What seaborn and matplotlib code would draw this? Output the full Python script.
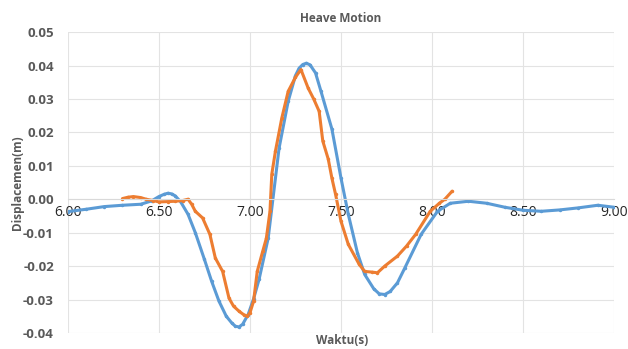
import matplotlib
matplotlib.use("Agg")
import matplotlib.pyplot as plt
import seaborn as sns

# blue series (smooth model curve)
t_blue = [6.00, 6.10, 6.20, 6.30, 6.40, 6.46, 6.50, 6.53, 6.55, 6.57, 6.59, 6.62, 6.66,
          6.70, 6.75, 6.79, 6.83, 6.87, 6.90, 6.92, 6.94, 6.96, 6.99, 7.02, 7.05, 7.10,
          7.16, 7.21, 7.25, 7.27, 7.29, 7.31, 7.33, 7.36, 7.39, 7.45, 7.50, 7.54, 7.59,
          7.63, 7.68, 7.71, 7.74, 7.77, 7.81, 7.85, 7.94, 8.03, 8.10, 8.20, 8.30, 8.40,
          8.50, 8.60, 8.70, 8.80, 8.91, 9.00]
d_blue = [-0.0037, -0.0030, -0.0022, -0.0018, -0.0015, -0.0005, 0.0008, 0.0015, 0.0018,
          0.0016, 0.0010, -0.0008, -0.0045, -0.0100, -0.0180, -0.0246, -0.0305, -0.0350,
          -0.0370, -0.0380, -0.0382, -0.0374, -0.0345, -0.0298, -0.0240, -0.0117, 0.0153,
          0.0293, 0.0370, 0.0392, 0.0403, 0.0407, 0.0402, 0.0378, 0.0323, 0.0210, 0.0063,
          -0.0045, -0.0160, -0.0225, -0.0268, -0.0283, -0.0285, -0.0276, -0.0250, -0.0206,
          -0.0105, -0.0036, -0.0012, -0.0006, -0.0012, -0.0024, -0.0033, -0.0036, -0.0032,
          -0.0026, -0.0018, -0.0024]

# orange series (measured)
t_orange = [6.30, 6.33, 6.36, 6.40, 6.43, 6.47, 6.50, 6.55, 6.59, 6.63, 6.66, 6.68, 6.70,
            6.74, 6.78, 6.81, 6.85, 6.885, 6.91, 6.94, 6.965, 6.985, 7.00, 7.02, 7.04,
            7.07, 7.09, 7.11, 7.12, 7.14, 7.175, 7.21, 7.25, 7.28, 7.32, 7.35, 7.38, 7.40,
            7.43, 7.45, 7.47, 7.50, 7.54, 7.60, 7.63, 7.67, 7.70, 7.74, 7.81, 7.86, 7.91,
            7.99, 8.04, 8.07, 8.11]
d_orange = [0.0002, 0.0006, 0.0008, 0.0005, 0.0000, -0.0004, -0.0008, -0.0007, -0.0006,
            -0.0004, 0.0000, -0.0015, -0.0036, -0.0056, -0.0105, -0.0176, -0.0216, -0.0296,
            -0.0320, -0.0335, -0.0345, -0.0350, -0.0340, -0.0305, -0.0216, -0.0156, -0.0117,
            -0.0036, 0.0075, 0.0144, 0.0243, 0.0323, 0.0365, 0.0388, 0.0332, 0.0300, 0.0263,
            0.0174, 0.0120, 0.0063, 0.0015, -0.0066, -0.0135, -0.0195, -0.0216, -0.0218,
            -0.0220, -0.0200, -0.0170, -0.0140, -0.0105, -0.0036, -0.0012, 0.0000, 0.0024]

x_ticks = [6.0, 6.5, 7.0, 7.5, 8.0, 8.5, 9.0]
y_ticks = [-0.04, -0.03, -0.02, -0.01, 0.0, 0.01, 0.02, 0.03, 0.04, 0.05]

sns.set_style("white")
plt.rcParams["font.family"] = ["Open Sans", "DejaVu Sans"]
grey = "#595959"

fig, ax = plt.subplots(figsize=(6.28, 3.49), dpi=100)
fig.subplots_adjust(left=0.108, right=0.978, top=0.908, bottom=0.046)

sns.lineplot(x=t_blue, y=d_blue, ax=ax, color="#5B9BD5", linewidth=2.2,
             marker="o", markersize=2.5, markeredgewidth=0)
sns.lineplot(x=t_orange, y=d_orange, ax=ax, color="#ED7D31", linewidth=2.2,
             marker="o", markersize=2.5, markeredgewidth=0)

ax.set_xlim(6, 9)
ax.set_ylim(-0.04, 0.05)
ax.set_xticks(x_ticks)
ax.set_yticks(y_ticks)
ax.set_xticklabels([f"{v:.2f}" for v in x_ticks], fontsize=9, fontweight="bold", color=grey)
ax.set_yticklabels([f"{v:.2f}" for v in y_ticks], fontsize=9.5, fontweight="bold", color=grey)
ax.tick_params(axis="both", length=0)
ax.tick_params(axis="x", pad=4)
ax.tick_params(axis="y", pad=10)

# horizontal axis crosses at zero, like the Excel original
for s in ["top", "right", "left"]:
    ax.spines[s].set_visible(False)
ax.spines["bottom"].set_position(("data", 0))
ax.spines["bottom"].set_color("#d9d9d9")
ax.grid(True, color="#e3e3e3", linewidth=0.8)
ax.set_axisbelow(True)

ax.set_title("Heave Motion", fontsize=8.5, fontweight="bold", color=grey, pad=7)
ax.set_ylabel("Displacemen(m)", fontsize=8.5, fontweight="bold", color=grey)
ax.yaxis.set_label_coords(-0.08, 0.5)
fig.text(0.545, 0.025, "Waktu(s)", fontsize=8.5, fontweight="bold", color=grey,
         ha="center", va="center")

fig.savefig("out.png", dpi=100)
